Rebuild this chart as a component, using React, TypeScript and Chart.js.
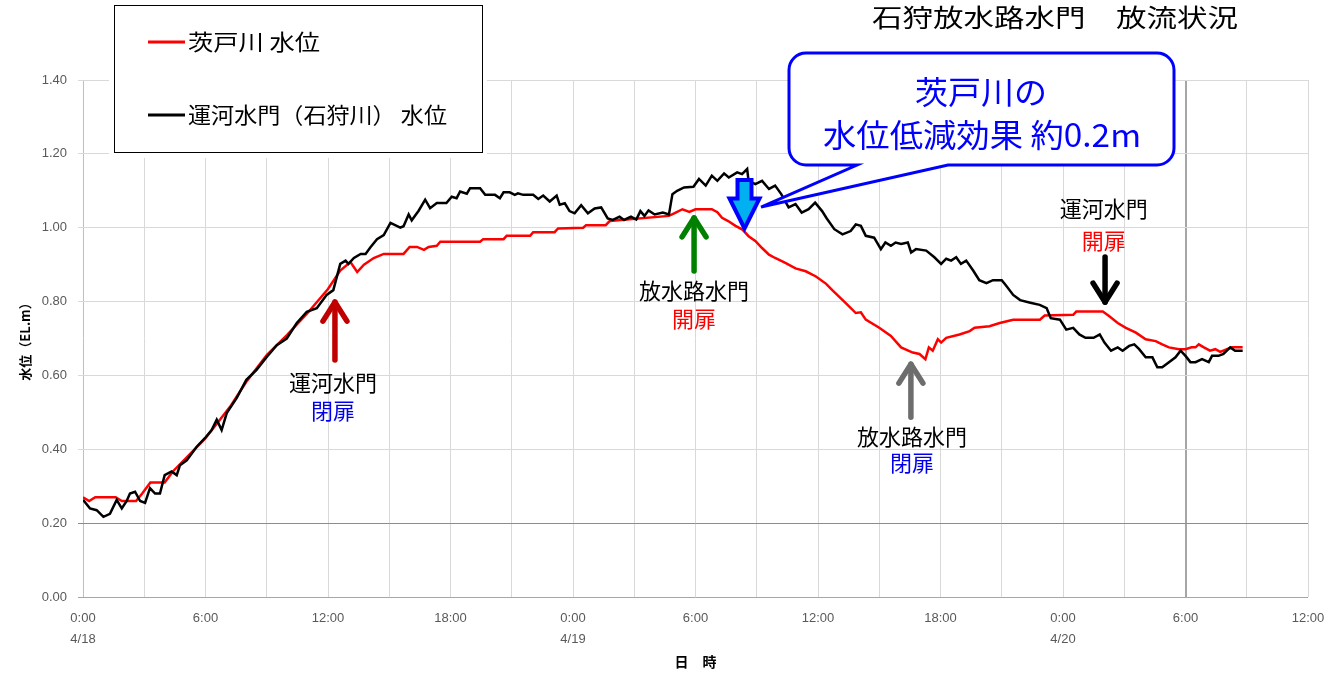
import React, { useEffect, useRef } from 'react';
import { Chart, registerables } from 'chart.js';

Chart.register(...registerables);

// ---------- data ----------
const chartTitle = '石狩放水路水門　放流状況';
const seriesNames = ['茨戸川 水位', '運河水門（石狩川） 水位'];
const dateLabels = ['4/18', '4/19', '4/20'];
const calloutLines = ['茨戸川の', '水位低減効果 約0.2m'];

// hours since 4/18 0:00
const ibarotoTimes = [
  0, 0.3, 0.6, 1.6, 1.9, 2.6, 2.9, 3.3, 4.0, 4.4,
  5.2, 6.0, 7.2, 8.0, 9.0, 10.0, 11.0, 12.0, 12.6, 13.1,
  13.43, 13.76, 14.24, 14.73, 15.7, 16.0, 16.36, 16.7, 16.93, 17.33,
  17.5, 19.45, 19.6, 20.6, 20.75, 21.9, 22.05, 23.1, 23.27, 24.5,
  24.64, 25.6, 25.8, 28.7, 29.03, 29.36, 29.7, 30.0, 30.8, 31.07,
  31.3, 31.6, 31.96, 32.3, 32.6, 32.93, 33.26, 33.6, 33.9, 34.4,
  34.9, 35.4, 35.9, 36.4, 36.7, 37.36, 37.85, 38.1, 38.34, 39.0,
  39.57, 40.07, 40.64, 40.97, 41.26, 41.43, 41.62, 41.87, 42.03, 42.28,
  42.93, 43.43, 43.67, 44.4, 44.9, 45.56, 46.87, 47.1, 48.5, 48.65,
  49.95, 50.27, 50.68, 51.08, 51.57, 52.05, 52.54, 52.86, 53.19, 53.68,
  54.0, 54.3, 54.49, 54.65, 54.9, 55.2, 55.46, 55.7, 56.03, 56.27, 56.8,
];
const ibarotoLevels = [
  0.27, 0.26, 0.27, 0.27, 0.26, 0.26, 0.28, 0.31, 0.31, 0.34,
  0.385, 0.43, 0.515, 0.583, 0.655, 0.71, 0.769, 0.834, 0.884, 0.907,
  0.88, 0.9, 0.918, 0.929, 0.929, 0.948, 0.948, 0.94, 0.948, 0.951,
  0.962, 0.962, 0.969, 0.969, 0.978, 0.978, 0.988, 0.988, 0.998, 1.0,
  1.007, 1.007, 1.018, 1.032, 1.041, 1.05, 1.043, 1.05, 1.05, 1.042,
  1.027, 1.018, 1.005, 0.995, 0.977, 0.964, 0.945, 0.927, 0.918, 0.905,
  0.89, 0.882, 0.868, 0.848, 0.831, 0.796, 0.769, 0.771, 0.751, 0.729,
  0.707, 0.676, 0.662, 0.658, 0.644, 0.676, 0.667, 0.698, 0.689, 0.702,
  0.711, 0.72, 0.729, 0.733, 0.742, 0.751, 0.751, 0.762, 0.764, 0.773,
  0.773, 0.76, 0.742, 0.729, 0.716, 0.698, 0.693, 0.684, 0.676, 0.671,
  0.671, 0.676, 0.676, 0.684, 0.676, 0.667, 0.671, 0.664, 0.671, 0.676, 0.676,
];

const canalTimes = [
  0, 0.34, 0.67, 1.0, 1.32, 1.65, 1.9, 2.14, 2.3, 2.55,
  2.8, 3.04, 3.28, 3.53, 3.77, 4.0, 4.34, 4.59, 4.75, 5.08,
  5.57, 5.97, 6.3, 6.55, 6.79, 7.04, 7.53, 8.0, 8.5, 9.0,
  9.49, 9.98, 10.47, 10.96, 11.45, 11.93, 12.26, 12.6, 12.86, 13.0,
  13.27, 13.6, 13.84, 14.08, 14.4, 14.73, 15.06, 15.54, 15.7, 15.95,
  16.1, 16.44, 16.76, 17.0, 17.33, 17.8, 18.06, 18.3, 18.47, 18.8,
  18.96, 19.45, 19.7, 20.18, 20.42, 20.6, 20.9, 21.15, 21.3, 21.56,
  22.05, 22.3, 22.54, 22.86, 23.2, 23.35, 23.6, 23.83, 24.08, 24.4,
  24.73, 25.06, 25.38, 25.7, 25.95, 26.28, 26.5, 26.84, 27.1, 27.3,
  27.5, 27.7, 28.0, 28.4, 28.7, 28.87, 29.1, 29.44, 29.9, 30.17,
  30.5, 30.8, 31.07, 31.4, 31.63, 32.04, 32.28, 32.53, 32.6, 32.93,
  33.26, 33.6, 33.9, 34.2, 34.56, 34.9, 35.2, 35.54, 35.86, 36.2,
  36.43, 36.8, 37.2, 37.6, 37.85, 38.1, 38.34, 38.75, 39.08, 39.3,
  39.57, 39.8, 40.07, 40.4, 40.56, 40.8, 41.3, 41.7, 42.03, 42.28,
  42.52, 42.77, 43.0, 43.26, 43.6, 43.9, 44.25, 44.57, 45.0, 45.2,
  45.56, 45.9, 46.4, 46.86, 47.2, 47.4, 47.85, 48.16, 48.5, 48.8,
  49.1, 49.5, 49.8, 50.03, 50.35, 50.68, 50.92, 51.24, 51.49, 51.73,
  52.05, 52.38, 52.62, 52.86, 53.19, 53.51, 53.76, 54.0, 54.24, 54.49,
  54.81, 55.14, 55.3, 55.62, 55.86, 56.19, 56.43, 56.8,
];
const canalLevels = [
  0.263, 0.24, 0.235, 0.217, 0.225, 0.263, 0.24, 0.26, 0.28, 0.285,
  0.26, 0.255, 0.295, 0.28, 0.28, 0.33, 0.34, 0.33, 0.357, 0.37,
  0.407, 0.43, 0.452, 0.48, 0.452, 0.498, 0.539, 0.588, 0.615, 0.65,
  0.682, 0.7, 0.742, 0.772, 0.782, 0.818, 0.831, 0.902, 0.911, 0.902,
  0.918, 0.929, 0.929, 0.947, 0.969, 0.98, 1.013, 1.0, 1.004, 1.036,
  1.02, 1.046, 1.076, 1.053, 1.067, 1.067, 1.084, 1.08, 1.098, 1.092,
  1.107, 1.107, 1.089, 1.089, 1.08, 1.096, 1.096, 1.089, 1.093, 1.089,
  1.089, 1.078, 1.087, 1.071, 1.087, 1.062, 1.066, 1.045, 1.039, 1.061,
  1.039, 1.052, 1.055, 1.025, 1.021, 1.03, 1.021, 1.03, 1.022, 1.045,
  1.032, 1.047, 1.036, 1.041, 1.036, 1.091, 1.1, 1.109, 1.111, 1.132,
  1.114, 1.141, 1.127, 1.147, 1.136, 1.15, 1.145, 1.159, 1.127, 1.118,
  1.127, 1.105, 1.114, 1.091, 1.055, 1.064, 1.041, 1.05, 1.068, 1.045,
  1.025, 0.996, 0.982, 0.991, 1.009, 1.005, 0.978, 0.973, 0.942, 0.96,
  0.951, 0.96, 0.956, 0.96, 0.933, 0.942, 0.938, 0.92, 0.902, 0.916,
  0.911, 0.92, 0.902, 0.911, 0.884, 0.858, 0.85, 0.858, 0.858, 0.844,
  0.818, 0.804, 0.797, 0.791, 0.782, 0.755, 0.751, 0.724, 0.729, 0.711,
  0.702, 0.702, 0.711, 0.689, 0.667, 0.676, 0.667, 0.68, 0.684, 0.671,
  0.649, 0.649, 0.622, 0.622, 0.636, 0.649, 0.667, 0.653, 0.636, 0.636,
  0.644, 0.636, 0.653, 0.653, 0.658, 0.676, 0.667, 0.667,
];

// gate operation annotations (anchored in data units: hours, metres)
type Note = { t: number; from: number; to: number; color: string; labels: { text: string; color: string; v: number; t: number }[] };
const gateNotes: Note[] = [
  { t: 12.34, from: 0.642, to: 0.804, color: '#c00000', labels: [
    { text: '運河水門', color: '#000000', v: 0.5795, t: 12.24 },
    { text: '閉扉', color: '#0000ee', v: 0.5037, t: 12.24 } ] },
  { t: 29.93, from: 0.883, to: 1.032, color: '#008000', labels: [
    { text: '放水路水門', color: '#000000', v: 0.8286, t: 29.93 },
    { text: '開扉', color: '#ff0000', v: 0.7528, t: 29.93 } ] },
  { t: 40.55, from: 0.487, to: 0.636, color: '#6d6d6d', labels: [
    { text: '放水路水門', color: '#000000', v: 0.4333, t: 40.6 },
    { text: '閉扉', color: '#0000ee', v: 0.3629, t: 40.6 } ] },
  { t: 50.06, from: 0.921, to: 0.793, color: '#000000', labels: [
    { text: '運河水門', color: '#000000', v: 1.0514, t: 50.0 },
    { text: '開扉', color: '#ff0000', v: 0.964, t: 50.0 } ] },
];
const effectArrow = { t: 32.4, top: 1.129, tip: 0.998 };
const calloutTip = { t: 33.21, v: 1.056 };

const JP = '"Noto Sans CJK JP", "Noto Sans", sans-serif';

function drawText(ctx: CanvasRenderingContext2D, text: string, x: number, y: number, size: number, color: string, align: CanvasTextAlign = 'center', targetW?: number) {
  ctx.save();
  ctx.font = `${size}px ${JP}`;
  ctx.fillStyle = color;
  ctx.textBaseline = 'middle';
  ctx.textAlign = align;
  const w = ctx.measureText(text).width;
  const sx = targetW ? targetW / w : 1;
  ctx.translate(x, y);
  ctx.scale(sx, 1);
  ctx.fillText(text, 0, 0);
  ctx.restore();
}

function lineArrow(ctx: CanvasRenderingContext2D, x: number, y0: number, y1: number, color: string) {
  const dir = y1 < y0 ? 1 : -1; // head direction: tip at y1
  ctx.save();
  ctx.strokeStyle = color;
  ctx.lineWidth = 5.5;
  ctx.lineCap = 'round';
  ctx.lineJoin = 'round';
  ctx.beginPath();
  ctx.moveTo(x, y0);
  ctx.lineTo(x, y1 + dir * 2);
  ctx.stroke();
  ctx.beginPath();
  ctx.moveTo(x - 12, y1 + dir * 21);
  ctx.lineTo(x, y1 + dir * 2);
  ctx.lineTo(x + 12, y1 + dir * 21);
  ctx.stroke();
  ctx.restore();
}

const overlayPlugin = {
  id: 'overlay',
  afterDatasetsDraw(chart: any) {
    const ctx: CanvasRenderingContext2D = chart.ctx;
    const xs = chart.scales.x;
    const ys = chart.scales.y;
    const X = (t: number) => xs.getPixelForValue(t);
    const Y = (v: number) => ys.getPixelForValue(v);

    // gate arrows and labels
    gateNotes.forEach((n) => {
      lineArrow(ctx, X(n.t), Y(n.from), Y(n.to), n.color);
      n.labels.forEach((l) => drawText(ctx, l.text, X(l.t), Y(l.v), 22, l.color));
    });

    // block arrow (blue outline, cyan fill)
    {
      const cx = X(effectArrow.t);
      const top = Y(effectArrow.top);
      const tip = Y(effectArrow.tip);
      const headBase = top + (tip - top) * 0.38;
      ctx.save();
      ctx.beginPath();
      ctx.moveTo(cx - 7, top);
      ctx.lineTo(cx + 7, top);
      ctx.lineTo(cx + 7, headBase);
      ctx.lineTo(cx + 15, headBase);
      ctx.lineTo(cx, tip);
      ctx.lineTo(cx - 15, headBase);
      ctx.lineTo(cx - 7, headBase);
      ctx.closePath();
      ctx.fillStyle = '#00b0f0';
      ctx.fill();
      ctx.lineWidth = 4;
      ctx.lineJoin = 'miter';
      ctx.strokeStyle = '#0000ff';
      ctx.stroke();
      ctx.restore();
    }

    // callout
    {
      const l = 789, r = 1174, t = 53, b = 165, rad = 17;
      const tx = X(calloutTip.t), ty = Y(calloutTip.v);
      ctx.save();
      ctx.beginPath();
      ctx.moveTo(l + rad, t);
      ctx.lineTo(r - rad, t);
      ctx.arcTo(r, t, r, t + rad, rad);
      ctx.lineTo(r, b - rad);
      ctx.arcTo(r, b, r - rad, b, rad);
      ctx.lineTo(948, b);
      ctx.lineTo(tx, ty);
      ctx.lineTo(857, b);
      ctx.lineTo(l + rad, b);
      ctx.arcTo(l, b, l, b - rad, rad);
      ctx.lineTo(l, t + rad);
      ctx.arcTo(l, t, l + rad, t, rad);
      ctx.closePath();
      ctx.fillStyle = '#ffffff';
      ctx.fill();
      ctx.lineWidth = 3;
      ctx.strokeStyle = '#0000ff';
      ctx.stroke();
      ctx.restore();
      drawText(ctx, calloutLines[0], 981, 92, 32, '#0000ff', 'center', 132);
      drawText(ctx, calloutLines[1], 982, 135, 32, '#0000ff', 'center', 318);
    }

    // legend box
    {
      ctx.save();
      ctx.fillStyle = '#ffffff';
      ctx.fillRect(109, 0, 378, 158);
      ctx.strokeStyle = '#000000';
      ctx.lineWidth = 1;
      ctx.strokeRect(114.5, 5.5, 368, 147);
      const ds = chart.data.datasets;
      const rows = [42, 115];
      const widths = [132, 259];
      ds.forEach((d: any, i: number) => {
        ctx.beginPath();
        ctx.strokeStyle = d.borderColor;
        ctx.lineWidth = 3;
        ctx.moveTo(148, rows[i]);
        ctx.lineTo(185, rows[i]);
        ctx.stroke();
        drawText(ctx, d.label, 188, rows[i], 22, '#000000', 'left', widths[i]);
      });
      ctx.restore();
    }

    // title
    drawText(ctx, chartTitle, 1055, 17, 25, '#000000', 'center', 366);
  },
};

export default function App() {
  const ref = useRef<HTMLCanvasElement>(null);
  useEffect(() => {
    document.body.style.margin = '0';
    const canvas = ref.current;
    if (!canvas) return;
    const chart = new Chart(canvas, {
      type: 'line',
      data: {
        datasets: [
          {
            label: seriesNames[0],
            data: ibarotoTimes.map((t, i) => ({ x: t, y: ibarotoLevels[i] })),
            borderColor: '#ff0000',
            borderWidth: 2.5,
            pointRadius: 0,
            tension: 0,
            order: 2,
          },
          {
            label: seriesNames[1],
            data: canalTimes.map((t, i) => ({ x: t, y: canalLevels[i] })),
            borderColor: '#000000',
            borderWidth: 2.5,
            pointRadius: 0,
            tension: 0,
            order: 1,
          },
        ],
      },
      options: {
        responsive: false,
        animation: false,
        layout: { padding: { top: 80, right: 18, bottom: 0, left: 0 } },
        plugins: {
          legend: { display: false },
          title: { display: false },
          tooltip: { enabled: false },
        },
        scales: {
          x: {
            type: 'linear',
            min: 0,
            max: 60,
            afterFit: (s: any) => { s.height = 80; s.paddingLeft = 0; s.paddingRight = 0; },
            border: { display: false },
            grid: {
              drawTicks: false,
              color: (c: any) => (c.tick && c.tick.value === 54 ? '#a6a6a6' : c.tick && c.tick.value === 0 ? '#bfbfbf' : '#d9d9d9'),
              lineWidth: (c: any) => (c.tick && c.tick.value === 54 ? 2 : 1),
            },
            ticks: {
              stepSize: 3,
              autoSkip: false,
              maxRotation: 0,
              padding: 11,
              color: '#595959',
              font: { family: '"Liberation Sans", sans-serif', size: 13, lineHeight: 1.6 },
              callback: (v: any) => {
                const h = Number(v);
                if (h % 6 !== 0) return '';
                const hh = h % 24;
                if (hh === 0) return ['0:00', dateLabels[h / 24]];
                return `${hh}:00`;
              },
            },
            title: {
              display: true,
              text: '日　時',
              color: '#000000',
              font: { family: JP, size: 14, weight: 'bold' },
              padding: { top: 0, bottom: 7 },
            },
          },
          y: {
            min: 0,
            max: 1.4,
            afterFit: (s: any) => { s.width = 83; s.paddingTop = 0; s.paddingBottom = 0; },
            border: { display: false },
            grid: {
              tickLength: 5,
              color: (c: any) => {
                const v = c.tick ? c.tick.value : -1;
                if (Math.abs(v - 0.2) < 1e-6) return '#8c8c8c';
                if (Math.abs(v) < 1e-6) return '#a6a6a6';
                return '#d9d9d9';
              },
            },
            ticks: {
              stepSize: 0.2,
              padding: 11,
              color: '#595959',
              font: { family: '"Liberation Sans", sans-serif', size: 13 },
              callback: (v: any) => Number(v).toFixed(2),
            },
            title: {
              display: true,
              text: '水位（EL.m）',
              color: '#000000',
              font: { family: JP, size: 13, weight: 'bold' },
              padding: { top: 17, bottom: 0 },
            },
          },
        },
      },
      plugins: [overlayPlugin],
    } as any);
    return () => chart.destroy();
  }, []);
  return (
    <div style={{ width: 1326, height: 677, background: '#ffffff' }}>
      <canvas ref={ref} width={1326} height={677} style={{ display: 'block', width: 1326, height: 677 }} />
    </div>
  );
}
